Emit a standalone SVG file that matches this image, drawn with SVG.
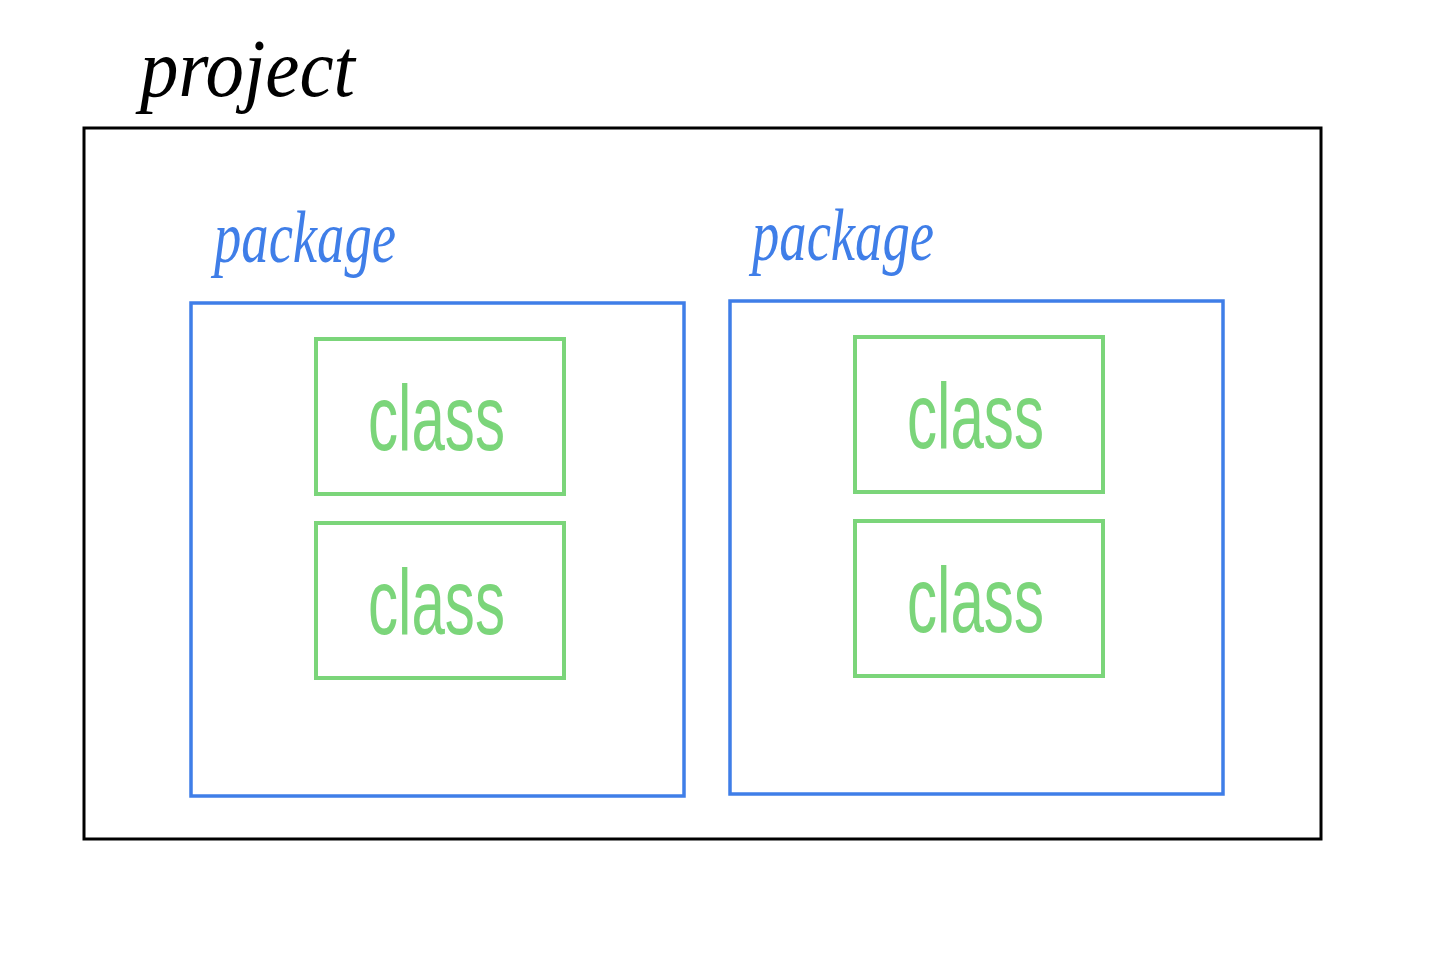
<svg xmlns="http://www.w3.org/2000/svg" width="1432" height="956" viewBox="0 0 1432 956">
<style>
.proj{fill:none;stroke:#000;stroke-width:3}
.pkg{fill:none;stroke:#3f7ee8;stroke-width:3.5}
.cls{fill:none;stroke:#7bd57a;stroke-width:4}
.hand{font-family:"Liberation Serif","DejaVu Serif",serif;font-style:italic}
.tp{fill:#000}
.tk{fill:#3f7ee8}
.tc{fill:#7bd57a;font-style:normal;font-family:"Liberation Sans","DejaVu Sans",sans-serif;font-weight:300}
</style>
<rect width="1432" height="956" fill="#fff"/>
<g id="project">
<rect class="proj" x="84" y="128" width="1237" height="711"/>
<text class="hand tp" x="140" y="96" font-size="82" textLength="215" lengthAdjust="spacingAndGlyphs">project</text>
</g>
<g id="package1">
<rect class="pkg" x="191" y="303" width="493" height="493"/>
<text class="hand tk" x="214" y="262" font-size="74" textLength="182" lengthAdjust="spacingAndGlyphs">package</text>
</g>
<g id="package2">
<rect class="pkg" x="730" y="301" width="493" height="493"/>
<text class="hand tk" x="752" y="260" font-size="74" textLength="182" lengthAdjust="spacingAndGlyphs">package</text>
</g>
<g id="class1">
<rect class="cls" x="316" y="339" width="248" height="155"/>
<text class="tc" x="368" y="450" font-size="92" textLength="137" lengthAdjust="spacingAndGlyphs">class</text>
</g>
<g id="class2">
<rect class="cls" x="316" y="523" width="248" height="155"/>
<text class="tc" x="368" y="634" font-size="92" textLength="137" lengthAdjust="spacingAndGlyphs">class</text>
</g>
<g id="class3">
<rect class="cls" x="855" y="337" width="248" height="155"/>
<text class="tc" x="907" y="448" font-size="92" textLength="137" lengthAdjust="spacingAndGlyphs">class</text>
</g>
<g id="class4">
<rect class="cls" x="855" y="521" width="248" height="155"/>
<text class="tc" x="907" y="632" font-size="92" textLength="137" lengthAdjust="spacingAndGlyphs">class</text>
</g>
<g id="connectors"></g>
</svg>
